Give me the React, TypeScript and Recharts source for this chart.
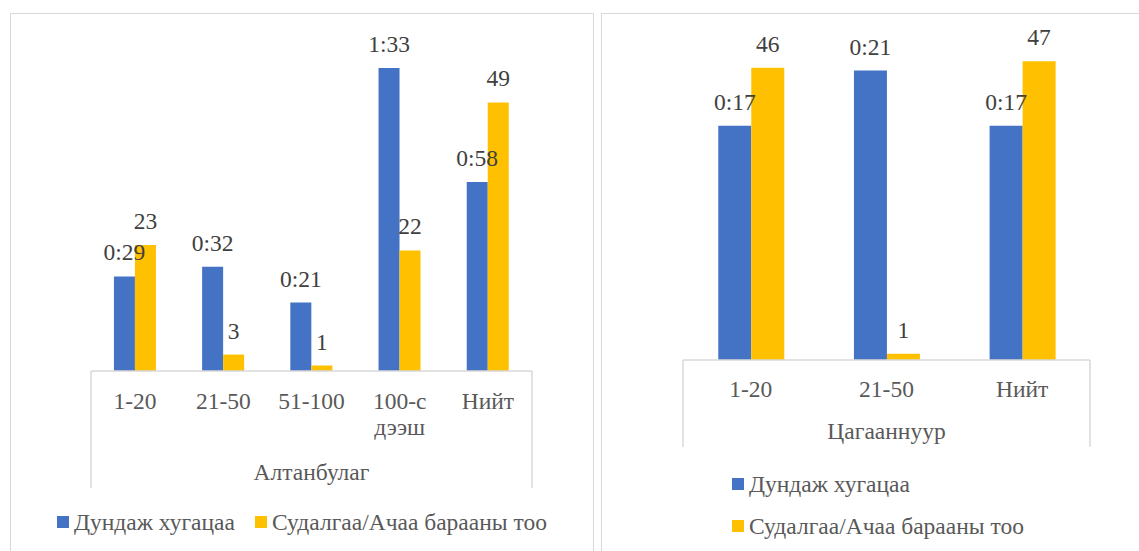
import React from 'react';
import { BarChart, Bar, XAxis, YAxis, LabelList, Legend, Customized } from 'recharts';

const FONT = "'Liberation Serif', 'Times New Roman', serif";
const FS = 23.5;
const BLUE = '#4472C4';
const ORANGE = '#FFC000';
const GRID = '#d9d9d9';

const SERIES_TIME = 'Дундаж хугацаа';
const SERIES_COUNT = 'Судалгаа/Ачаа барааны тоо';

// Алтанбулаг
const leftGroup = 'Алтанбулаг';
const leftCategories = ['1-20', '21-50', '51-100', '100-с\nдээш', 'Нийт'];
const leftMinutes = [29, 32, 21, 93, 58]; // average time in minutes (h:mm)
const leftCounts = [23, 3, 1, 22, 49];

// Цагааннуур
const rightGroup = 'Цагааннуур';
const rightCategories = ['1-20', '21-50', 'Нийт'];
const rightMinutes = [17, 21, 17];
const rightCounts = [46, 1, 47];

const leftData = leftCategories.map((c, i) => ({ cat: c, minutes: leftMinutes[i], count: leftCounts[i] }));
const rightData = rightCategories.map((c, i) => ({ cat: c, minutes: rightMinutes[i], count: rightCounts[i] }));

const fmtTime = (v: any) => {
  const m = Number(v);
  return `${Math.floor(m / 60)}:${String(m % 60).padStart(2, '0')}`;
};

const makeTick = (base: number) => (props: any) => {
  const { x, y, payload } = props;
  const lines = String(payload.value).split('\n');
  return (
    <text x={x} y={y} textAnchor="middle" fill="#595959" fontSize={FS} fontFamily={FONT}>
      {lines.map((l, i) => (
        <tspan key={i} x={x} y={y + base + i * 26}>{l}</tspan>
      ))}
    </text>
  );
};

const makeBox = (x1: number, x2: number, y1: number, y2: number) => () => (
  <g>
    <line x1={x1} x2={x1} y1={y1} y2={y2} stroke={GRID} strokeWidth={1.5} />
    <line x1={x2} x2={x2} y1={y1} y2={y2} stroke={GRID} strokeWidth={1.5} />
  </g>
);

const LegendContent = ({ payload, vertical }: any) => (
  <div style={{ display: 'flex', flexDirection: vertical ? 'column' : 'row', gap: vertical ? 14 : 20, fontFamily: FONT, fontSize: FS, color: '#595959' }}>
    {(payload || []).map((p: any, i: number) => (
      <div key={i} style={{ display: 'flex', alignItems: 'center', lineHeight: '28px', whiteSpace: 'nowrap' }}>
        <span style={{ display: 'inline-block', width: 12, height: 12, background: p.color, marginRight: 5 }} />
        <span>{p.value}</span>
      </div>
    ))}
  </div>
);

const labelStyle = { fill: '#404040', fontSize: FS, fontFamily: FONT };

export default function App() {
  return (
    <div style={{ position: 'absolute', left: 0, top: 0, width: 1139, height: 551, overflow: 'hidden', background: '#fff' }}>
      <div style={{ position: 'absolute', left: 10, top: 13, width: 584, height: 600, border: `1.5px solid ${GRID}`, boxSizing: 'border-box' }} />
      <div style={{ position: 'absolute', left: 601, top: 13, width: 600, height: 600, border: `1.5px solid ${GRID}`, boxSizing: 'border-box' }} />

      <div style={{ position: 'absolute', left: 0, top: 0 }}>
        <BarChart width={598} height={551} data={leftData} margin={{ top: 20, right: 66, bottom: 63, left: 91 }} barCategoryGap="26%" barGap={0}>
          <XAxis dataKey="cat" height={117} interval={0} tickSize={0} tickMargin={0} tickLine={false}
            axisLine={{ stroke: GRID, strokeWidth: 1.5 }} tick={makeTick(38)}
            label={{ value: leftGroup, position: 'insideBottom', offset: 8, fill: '#595959', fontSize: FS, fontFamily: FONT }} />
          <YAxis yAxisId="m" hide domain={[0, 107.7]} allowDataOverflow type="number" />
          <YAxis yAxisId="c" hide domain={[0, 64.05]} allowDataOverflow type="number" />
          <Bar yAxisId="m" dataKey="minutes" name={SERIES_TIME} fill={BLUE} isAnimationActive={false}>
            <LabelList dataKey="minutes" position="top" offset={16} formatter={fmtTime} style={labelStyle} />
          </Bar>
          <Bar yAxisId="c" dataKey="count" name={SERIES_COUNT} fill={ORANGE} isAnimationActive={false}>
            <LabelList dataKey="count" position="top" offset={16} style={labelStyle} />
          </Bar>
          <Customized component={makeBox(91, 532, 371, 488)} />
          <Legend layout="horizontal" verticalAlign="middle" align="center"
            wrapperStyle={{ position: 'absolute', left: 57, top: 508, width: 'auto' }}
            content={(p: any) => <LegendContent {...p} vertical={false} />} />
        </BarChart>
      </div>

      <div style={{ position: 'absolute', left: 600, top: 0 }}>
        <BarChart width={539} height={551} data={rightData} margin={{ top: 20, right: 49, bottom: 104, left: 83 }} barCategoryGap="26%" barGap={0}>
          <XAxis dataKey="cat" height={87} interval={0} tickSize={0} tickMargin={0} tickLine={false}
            axisLine={{ stroke: GRID, strokeWidth: 1.5 }} tick={makeTick(36.5)}
            label={{ value: rightGroup, position: 'insideBottom', offset: 8, fill: '#595959', fontSize: FS, fontFamily: FONT }} />
          <YAxis yAxisId="m" hide domain={[0, 24.67]} allowDataOverflow type="number" />
          <YAxis yAxisId="c" hide domain={[0, 53.5]} allowDataOverflow type="number" />
          <Bar yAxisId="m" dataKey="minutes" name={SERIES_TIME} fill={BLUE} isAnimationActive={false}>
            <LabelList dataKey="minutes" position="top" offset={16} formatter={fmtTime} style={labelStyle} />
          </Bar>
          <Bar yAxisId="c" dataKey="count" name={SERIES_COUNT} fill={ORANGE} isAnimationActive={false}>
            <LabelList dataKey="count" position="top" offset={16} style={labelStyle} />
          </Bar>
          <Customized component={makeBox(83, 490, 360, 447)} />
          <Legend layout="vertical" verticalAlign="middle" align="center"
            wrapperStyle={{ position: 'absolute', left: 132, top: 470, width: 'auto' }}
            content={(p: any) => <LegendContent {...p} vertical={true} />} />
        </BarChart>
      </div>
    </div>
  );
}
